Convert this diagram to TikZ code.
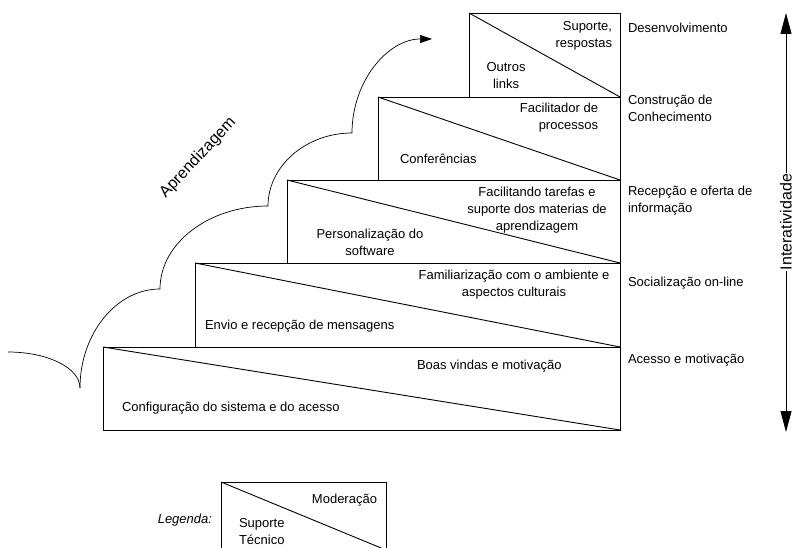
\documentclass[tikz,border=0pt]{standalone}
\usepackage{fontspec}
\setmainfont{Liberation Sans}
\usetikzlibrary{arrows.meta}
\begin{document}
\begin{tikzpicture}[x=1pt,y=-1pt,
  lbl/.style={font=\fontsize{13}{17}\selectfont, inner sep=0pt, outer sep=0pt},
  big/.style={font=\fontsize{16}{19}\selectfont, inner sep=0pt},
  stepbox/.style={draw, line width=0.9pt, rectangle, inner sep=0pt, outer sep=0pt, anchor=north west},
  diag/.style={line width=0.9pt},
  curve/.style={line width=0.7pt},
]
\useasboundingbox (0,0) rectangle (794,548);

% staircase of levels
\node[stepbox, minimum width=517pt, minimum height=83pt] (s1) at (103,347) {};
\node[stepbox, minimum width=425pt, minimum height=84pt] (s2) at (195,263) {};
\node[stepbox, minimum width=333pt, minimum height=83pt] (s3) at (287,180) {};
\node[stepbox, minimum width=242pt, minimum height=83pt] (s4) at (378,97) {};
\node[stepbox, minimum width=151pt, minimum height=84pt] (s5) at (469,13) {};
\foreach \s in {s1,s2,s3,s4,s5}
  \draw[diag] (\s.north west) -- (\s.south east);

% texts inside the levels
\node[lbl, anchor=west] (t1a) at (122,408) {Configuração do sistema e do acesso};
\node[lbl, anchor=west] (t1b) at (417,366) {Boas vindas e motivação};
\node[lbl, anchor=west] (t2a) at (205,326) {Envio e recepção de mensagens};
\node[lbl, align=center] (t2b) at (514,284.5) {Familiarização com o ambiente e\\aspectos culturais};
\node[lbl, align=center] (t3a) at (370,242) {Personalização do\\software};
\node[lbl, align=center] (t3b) at (537,210) {Facilitando tarefas e\\suporte dos materias de\\aprendizagem};
\node[lbl, anchor=west] (t4a) at (400,159) {Conferências};
\node[lbl, align=right, anchor=east] (t4b) at (598,117.5) {Facilitador de\\processos};
\node[lbl, align=center] (t5a) at (506,76) {Outros\\links};
\node[lbl, align=right, anchor=east] (t5b) at (612,35.5) {Suporte,\\respostas};

% stage names
\node[lbl, anchor=west] (r5) at (628,28) {Desenvolvimento};
\node[lbl, anchor=west, align=left] (r4) at (628,108.5) {Construção de\\Conhecimento};
\node[lbl, anchor=west, align=left] (r3) at (628,200.5) {Recepção e oferta de\\informação};
\node[lbl, anchor=west] (r2) at (628,283) {Socialização on-line};
\node[lbl, anchor=west] (r1) at (628,360) {Acesso e motivação};

% learning curve
\coordinate (c0) at (8,352);
\coordinate (c1) at (80,388);
\coordinate (c2) at (160,289);
\coordinate (c3) at (268,206);
\coordinate (c4) at (352,133);
\coordinate (c5) at (432,39);
\draw[curve] (c0) .. controls (48,352) and (80,368) .. (c1);
\draw[curve, -{Triangle[length=12pt,width=8pt]}]
  (c1) .. controls (80,334) and (116,289) .. (c2)
       .. controls (160,243) and (209,206) .. (c3)
       .. controls (268,166) and (306,133) .. (c4)
       .. controls (352,81) and (388,39) .. (c5);
\node[big, rotate=47] (apr) at (198,158) {Aprendizagem};

% interactivity axis
\coordinate (itop) at (786,13);
\coordinate (ibot) at (786,432);
\draw[line width=0.8pt, {Triangle[length=21pt,width=11pt]}-{Triangle[length=21pt,width=11pt]}] (itop) -- (ibot);
\node[big, rotate=90, fill=white, inner sep=0.6pt] (inter) at (786,222) {Interatividade};

% legend
\node[lbl, anchor=east, font=\fontsize{13}{17}\selectfont\itshape] (leg) at (212,520) {Legenda:};
\node[stepbox, minimum width=165pt, minimum height=68pt] (lb) at (221,482) {};
\draw[diag] (lb.north west) -- (lb.south east);
\node[lbl, anchor=east] (lm) at (377,500) {Moderação};
\node[lbl, anchor=west, align=left] (ls) at (239,531.5) {Suporte\\Técnico};
\end{tikzpicture}
\end{document}
